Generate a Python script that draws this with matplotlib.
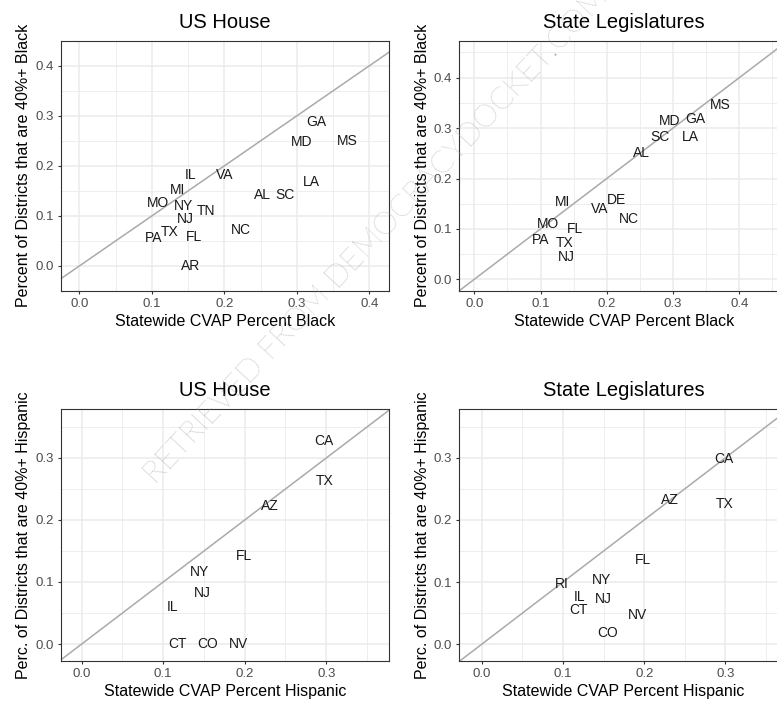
import matplotlib
matplotlib.use('Agg')
import matplotlib.pyplot as plt
from matplotlib.ticker import MultipleLocator

plt.rcParams['font.family'] = ['Liberation Sans', 'DejaVu Sans']

# top row: share of districts that are 40%+ Black
house_black_states = ['GA', 'MD', 'MS', 'IL', 'VA', 'LA', 'MI', 'AL', 'SC', 'MO',
                      'NY', 'TN', 'NJ', 'NC', 'TX', 'PA', 'FL', 'AR']
house_black_cvap = [0.327, 0.306, 0.370, 0.154, 0.200, 0.320, 0.135, 0.253, 0.284, 0.109,
                    0.144, 0.174, 0.146, 0.223, 0.124, 0.102, 0.158, 0.154]
house_black_share = [0.287, 0.247, 0.249, 0.181, 0.181, 0.167, 0.152, 0.141, 0.141, 0.125,
                     0.119, 0.109, 0.093, 0.071, 0.068, 0.055, 0.058, 0.0]

leg_black_states = ['MS', 'MD', 'GA', 'SC', 'LA', 'AL', 'MI', 'DE', 'VA', 'NC',
                    'MO', 'FL', 'PA', 'TX', 'NJ']
leg_black_cvap = [0.371, 0.295, 0.334, 0.281, 0.326, 0.253, 0.133, 0.214, 0.190, 0.234,
                  0.112, 0.152, 0.100, 0.136, 0.139]
leg_black_share = [0.346, 0.315, 0.319, 0.283, 0.282, 0.251, 0.154, 0.157, 0.139, 0.120,
                   0.109, 0.099, 0.078, 0.073, 0.044]

# bottom row: share of districts that are 40%+ Hispanic
house_hisp_states = ['CA', 'TX', 'AZ', 'FL', 'NY', 'NJ', 'IL', 'CT', 'CO', 'NV']
house_hisp_cvap = [0.297, 0.298, 0.231, 0.199, 0.144, 0.148, 0.112, 0.118, 0.155, 0.192]
house_hisp_share = [0.327, 0.263, 0.222, 0.142, 0.116, 0.082, 0.059, 0.0, 0.0, 0.0]

leg_hisp_states = ['CA', 'AZ', 'TX', 'FL', 'NY', 'RI', 'IL', 'NJ', 'CT', 'NV', 'CO']
leg_hisp_cvap = [0.298, 0.232, 0.299, 0.199, 0.147, 0.0985, 0.120, 0.150, 0.119, 0.192, 0.155]
leg_hisp_share = [0.298, 0.232, 0.225, 0.136, 0.104, 0.097, 0.076, 0.073, 0.055, 0.047, 0.018]

W, H = 777, 702
fig = plt.figure(figsize=(W / 100, H / 100), dpi=100)


def draw_panel(box, states, xs, ys, title, xlabel, ylabel, xlim, ylim):
    left, top, right, bottom = box
    ax = fig.add_axes([left / W, 1 - bottom / H, (right - left) / W, (bottom - top) / H])
    ax.set_xlim(xlim)
    ax.set_ylim(ylim)
    ax.xaxis.set_major_locator(MultipleLocator(0.1))
    ax.yaxis.set_major_locator(MultipleLocator(0.1))
    ax.xaxis.set_minor_locator(MultipleLocator(0.05))
    ax.yaxis.set_minor_locator(MultipleLocator(0.05))
    ax.xaxis.set_major_formatter(lambda v, p: f'{v:.1f}')
    ax.yaxis.set_major_formatter(lambda v, p: f'{v:.1f}')
    ax.grid(which='major', color='#ebebeb', lw=1.1)
    ax.grid(which='minor', color='#ebebeb', lw=0.6)
    ax.set_axisbelow(True)
    ax.tick_params(which='major', length=2.5, width=0.8, color='#333333',
                   labelcolor='#4d4d4d', labelsize=9.5, pad=2.5)
    ax.tick_params(which='minor', length=0)
    for s in ax.spines.values():
        s.set_color('#333333')
        s.set_linewidth(0.8)
    ax.axline((0, 0), slope=1, color='#aaaaaa', lw=1.1)
    for st, x, y in zip(states, xs, ys):
        ax.text(x, y, st, ha='center', va='center', fontsize=10, color='#1a1a1a')
    ax.set_title(title, fontsize=14.5, pad=9.5)
    ax.set_xlabel(xlabel, fontsize=11.5, labelpad=3)
    ax.set_ylabel(ylabel, fontsize=11.5, labelpad=3)
    return ax


draw_panel((61, 40.7, 389, 291), house_black_states, house_black_cvap, house_black_share,
           'US House', 'Statewide CVAP Percent Black',
           'Percent of Districts that are 40%+ Black', (-0.0253, 0.427), (-0.05, 0.45))
draw_panel((459.3, 40.7, 788, 291), leg_black_states, leg_black_cvap, leg_black_share,
           'State Legislatures', 'Statewide CVAP Percent Black',
           'Percent of Districts that are 40%+ Black', (-0.0226, 0.4736), (-0.0232, 0.4734))
draw_panel((61, 409.3, 389, 661), house_hisp_states, house_hisp_cvap, house_hisp_share,
           'US House', 'Statewide CVAP Percent Hispanic',
           'Perc. of Districts that are 40%+ Hispanic', (-0.0254, 0.377), (-0.0274, 0.3785))
draw_panel((459.3, 409.3, 788, 661), leg_hisp_states, leg_hisp_cvap, leg_hisp_share,
           'State Legislatures', 'Statewide CVAP Percent Hispanic',
           'Perc. of Districts that are 40%+ Hispanic', (-0.0276, 0.377), (-0.027, 0.378))

# diagonal watermark over the figure (runs off the top edge, as in the source)
fig.text(377 / W, 1 - 236 / H, 'RETRIEVED FROM DEMOCRACYDOCKET.COM', rotation=47,
         ha='center', va='center', fontsize=22.5, family='Lato', fontweight='light',
         color='#acacac', rotation_mode='anchor')

fig.savefig('out.png', dpi=100)
